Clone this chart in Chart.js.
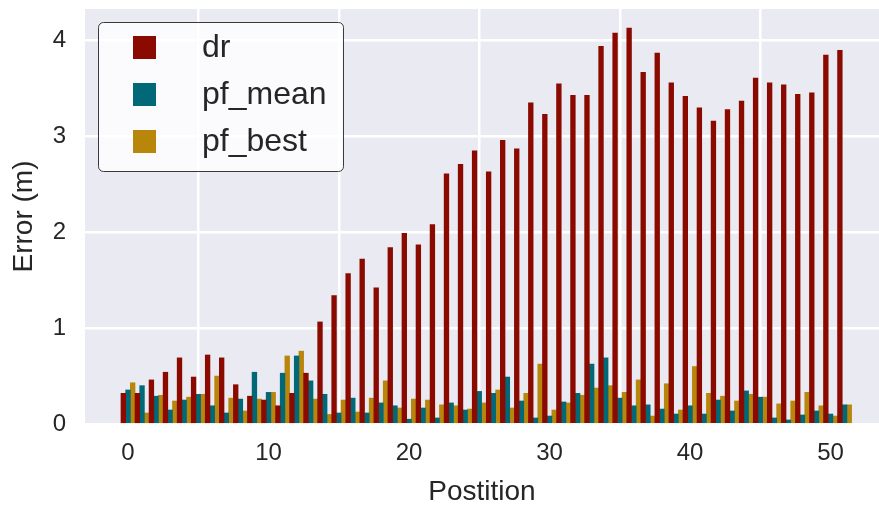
<!DOCTYPE html>
<html>
<head>
<meta charset="utf-8">
<style>
  html, body { margin: 0; padding: 0; background: #ffffff; }
  #wrap { width: 879px; height: 506px; position: relative; }
</style>
</head>
<body>
<div id="wrap">
  <canvas id="myChart"></canvas>
</div>

<script src="https://cdn.jsdelivr.net/npm/chart.js"></script>

<script>
  // positions along the track
  const positions = [0, 1, 2, 3, 4, 5, 6, 7, 8, 9, 10, 11, 12, 13, 14, 15, 16, 17, 18, 19,
    20, 21, 22, 23, 24, 25, 26, 27, 28, 29, 30, 31, 32, 33, 34, 35, 36, 37, 38, 39,
    40, 41, 42, 43, 44, 45, 46, 47, 48, 49, 50, 51];

  const drError = [0.32, 0.32, 0.46, 0.54, 0.69, 0.49, 0.72, 0.69, 0.41, 0.29, 0.25, 0.19, 0.32, 0.53,
    1.065, 1.34, 1.57, 1.72, 1.42, 1.84, 1.99, 1.87, 2.08, 2.61, 2.71, 2.85, 2.63, 2.96, 2.87, 3.35,
    3.23, 3.55, 3.43, 3.43, 3.94, 4.08, 4.13, 3.67, 3.87, 3.56, 3.42, 3.30, 3.16, 3.28, 3.37, 3.61,
    3.56, 3.54, 3.44, 3.455, 3.85, 3.90];

  const pfMeanError = [0.355, 0.40, 0.29, 0.146, 0.25, 0.31, 0.19, 0.115, 0.26, 0.54, 0.33, 0.53, 0.71,
    0.45, 0.31, 0.115, 0.27, 0.115, 0.22, 0.19, 0.05, 0.167, 0.063, 0.22, 0.146, 0.34, 0.32, 0.49,
    0.24, 0.063, 0.083, 0.23, 0.32, 0.625, 0.69, 0.27, 0.19, 0.20, 0.156, 0.104, 0.19, 0.104, 0.25,
    0.136, 0.345, 0.28, 0.063, 0.042, 0.094, 0.136, 0.104, 0.20];

  const pfBestError = [0.43, 0.115, 0.30, 0.24, 0.28, 0.31, 0.50, 0.27, 0.136, 0.26, 0.33, 0.71, 0.76,
    0.26, 0.10, 0.25, 0.125, 0.27, 0.45, 0.167, 0.26, 0.25, 0.20, 0.19, 0.156, 0.22, 0.355, 0.167,
    0.32, 0.625, 0.146, 0.22, 0.30, 0.375, 0.40, 0.33, 0.46, 0.083, 0.42, 0.146, 0.60, 0.32, 0.29,
    0.24, 0.31, 0.28, 0.21, 0.24, 0.33, 0.19, 0.083, 0.20];

  const seriesNames = ['dr', 'pf_mean', 'pf_best'];
  const seriesColors = ['#8b0a00', '#006877', '#b8860b'];
  const seriesValues = [drError, pfMeanError, pfBestError];

  const xTickStep = 10;
  const yTicks = [0, 1, 2, 3, 4];
</script>

<script>
  const textColor = '#262626';

  let datasets = [];
  for (let s = 0; s < seriesNames.length; s++) {
    let dataset = {};
    dataset.label = seriesNames[s];
    dataset.backgroundColor = seriesColors[s];
    dataset.borderWidth = 0;
    dataset.categoryPercentage = 1;
    dataset.barPercentage = 1;
    dataset.data = positions.map((p, i) => ({ x: p, y: seriesValues[s][i] }));
    datasets.push(dataset);
  }

  // grey plot background, seaborn style
  const plotBg = {
    id: 'plotBg',
    beforeDraw(chart) {
      const { ctx, chartArea: a } = chart;
      ctx.save();
      ctx.fillStyle = '#eaeaf2';
      ctx.fillRect(a.left, a.top, a.right - a.left, a.bottom - a.top);
      ctx.restore();
    }
  };

  // legend box in the upper left of the axes
  const boxLegend = {
    id: 'boxLegend',
    afterDraw(chart) {
      const ctx = chart.ctx;
      const bx = 98.5, by = 22.5, bw = 245, bh = 149, r = 5;
      ctx.save();
      ctx.beginPath();
      ctx.roundRect(bx, by, bw, bh, r);
      ctx.fillStyle = 'rgba(255,255,255,0.8)';
      ctx.fill();
      ctx.lineWidth = 1;
      ctx.strokeStyle = '#3a3a3a';
      ctx.stroke();
      ctx.font = '32px "Liberation Sans", Arial, sans-serif';
      ctx.textBaseline = 'middle';
      for (let s = 0; s < seriesNames.length; s++) {
        const cy = 47.5 + s * 47;
        ctx.fillStyle = seriesColors[s];
        ctx.fillRect(133, cy - 11.5, 23, 23);
        ctx.fillStyle = textColor;
        ctx.fillText(seriesNames[s], 202, cy + 1);
      }
      ctx.restore();
    }
  };

  const ctx = document.getElementById('myChart');

  new Chart(ctx, {
    type: 'bar',
    data: { datasets: datasets },
    plugins: [plotBg, boxLegend],
    options: {
      responsive: true,
      maintainAspectRatio: false,
      animation: false,
      layout: { padding: { top: 9, right: 0, bottom: 0, left: 0 } },
      plugins: {
        legend: { display: false },
        tooltip: { enabled: false }
      },
      scales: {
        x: {
          type: 'linear',
          min: -3.06,
          max: 53.45,
          offset: false,
          afterFit(scale) {
            scale.height = 82;
            scale.paddingLeft = 0;
            scale.paddingRight = 0;
          },
          ticks: {
            stepSize: xTickStep,
            includeBounds: false,
            padding: 15,
            color: textColor,
            font: { family: '"Liberation Sans", Arial, sans-serif', size: 24 },
            maxRotation: 0
          },
          grid: { color: '#ffffff', lineWidth: 2.5, drawTicks: false },
          border: { display: false },
          title: {
            display: true,
            text: 'Postition',
            color: textColor,
            padding: { top: 0, bottom: 0 },
            font: { family: '"Liberation Sans", Arial, sans-serif', size: 28, lineHeight: 1 }
          }
        },
        y: {
          min: yTicks[0],
          max: 4.33,
          afterFit(scale) {
            scale.width = 85;
            // tick padding would otherwise push the plot top down
            scale.paddingTop = 0;
            scale.paddingBottom = 0;
          },
          ticks: {
            stepSize: 1,
            includeBounds: false,
            padding: 19,
            color: textColor,
            font: { family: '"Liberation Sans", Arial, sans-serif', size: 24 }
          },
          grid: { color: '#ffffff', lineWidth: 2.5, drawTicks: false },
          border: { display: false },
          title: {
            display: true,
            text: 'Error (m)',
            color: textColor,
            padding: { top: 10, bottom: 0 },
            font: { family: '"Liberation Sans", Arial, sans-serif', size: 28, lineHeight: 1 }
          }
        }
      }
    }
  });
</script>
</body>
</html>
